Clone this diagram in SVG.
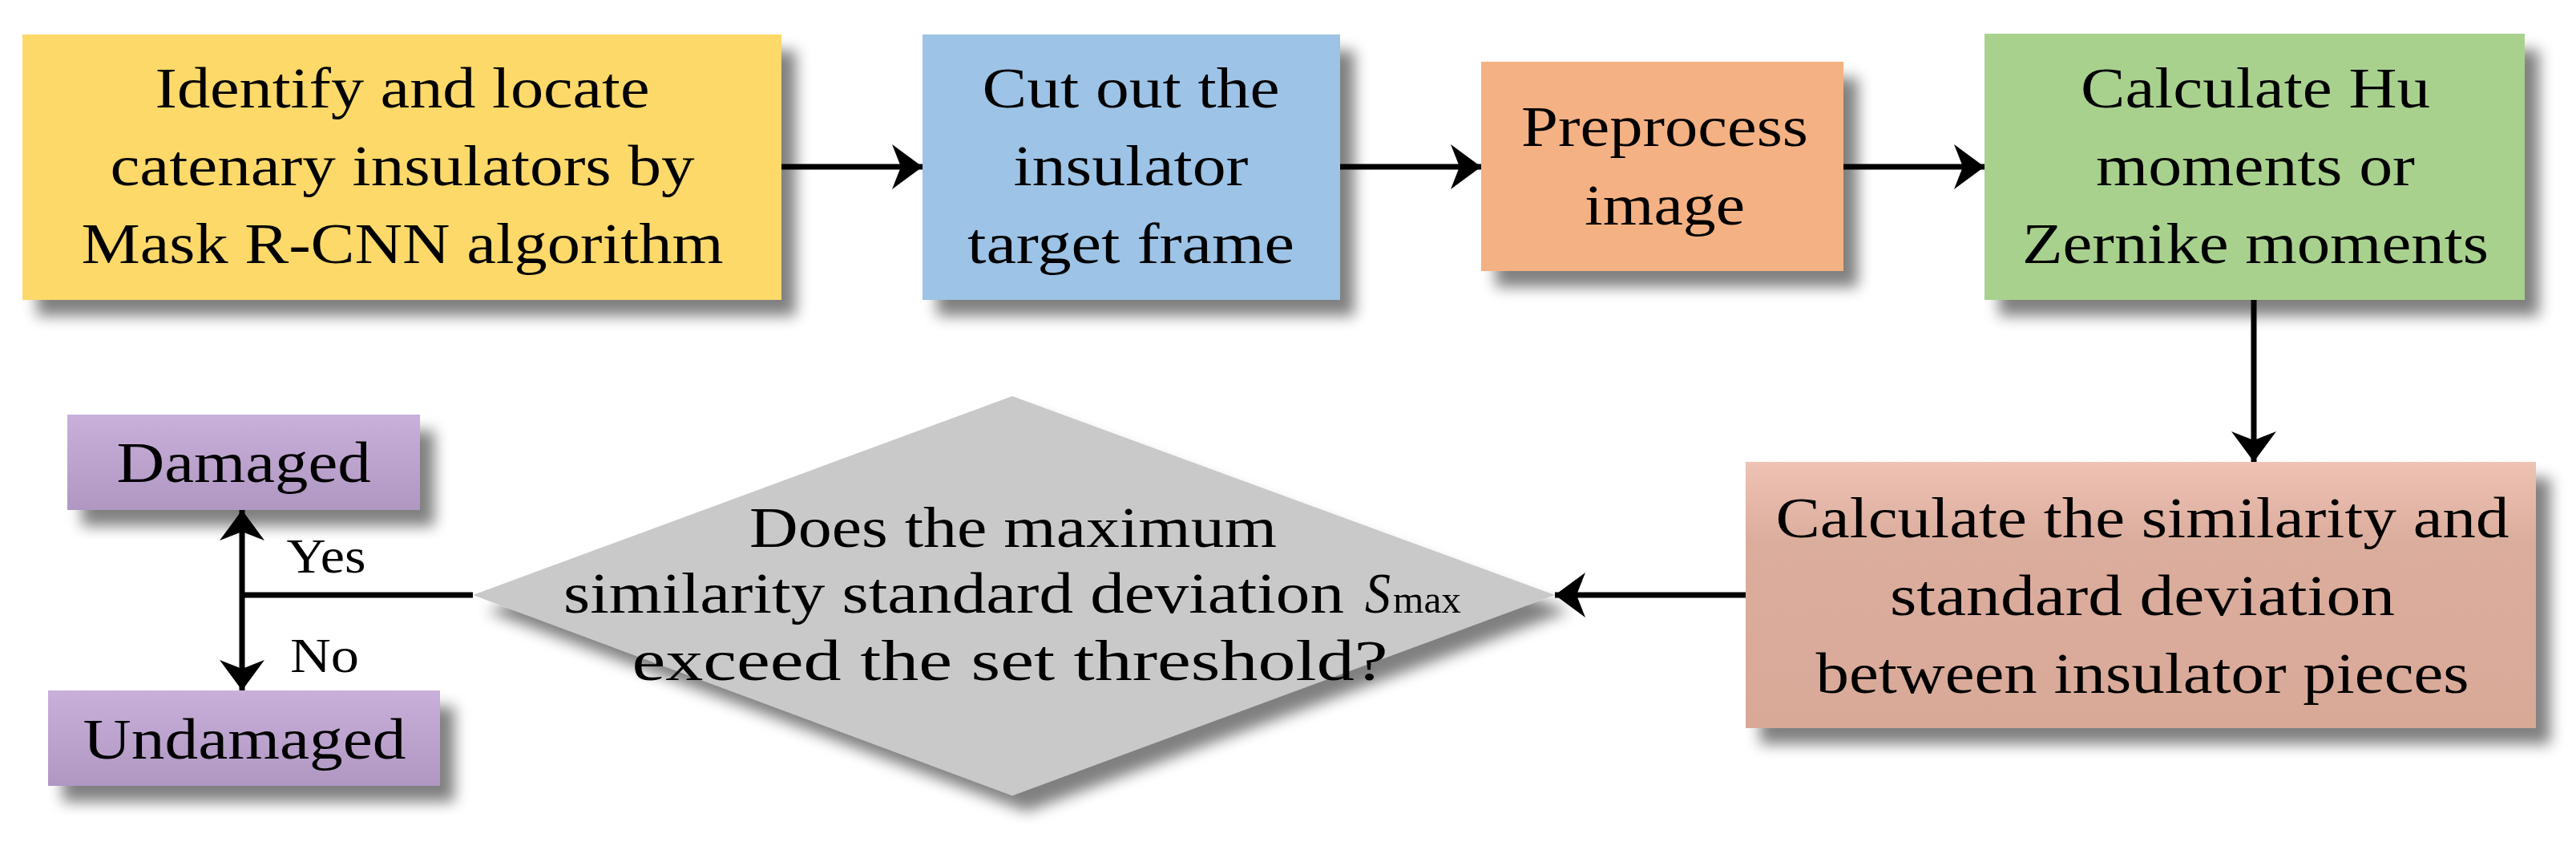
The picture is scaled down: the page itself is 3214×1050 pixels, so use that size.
<svg xmlns="http://www.w3.org/2000/svg" width="3214" height="1050" viewBox="0 0 3214 1050">
<style>
text{font-family:"Liberation Serif","DejaVu Serif",serif;font-size:72px;fill:#000;text-anchor:middle}
.sm{font-size:62px}
.box{filter:url(#sh)}
.ln{stroke:#000;stroke-width:7;fill:none}
</style>
<defs>
<filter id="sh" x="-20%" y="-20%" width="150%" height="150%">
<feGaussianBlur in="SourceAlpha" stdDeviation="9"/>
<feOffset dx="18" dy="20" result="b"/>
<feComponentTransfer><feFuncA type="linear" slope="0.5"/></feComponentTransfer>
<feMerge><feMergeNode/><feMergeNode in="SourceGraphic"/></feMerge>
</filter>
<linearGradient id="gp" x1="0" y1="0" x2="0" y2="1"><stop offset="0" stop-color="#EEC2B4"/><stop offset="0.3" stop-color="#DBAD9D"/><stop offset="1" stop-color="#D9A998"/></linearGradient>
<linearGradient id="gv" x1="0" y1="0" x2="0" y2="1"><stop offset="0" stop-color="#C8B0DB"/><stop offset="1" stop-color="#AF97C2"/></linearGradient>
<marker id="ah" markerUnits="userSpaceOnUse" markerWidth="50" markerHeight="70" viewBox="-45 -35 50 70" refX="0" refY="0" orient="auto">
<path d="M0,0 L-38,-28 L-27,0 L-38,28 Z" fill="#000"/>
</marker>
</defs>
<g id="n1"><rect class="box" x="28" y="43" width="947" height="331" fill="#FDD96A"/>
<text x="502" y="134" textLength="617" lengthAdjust="spacingAndGlyphs">Identify and locate</text>
<text x="502" y="231" textLength="729" lengthAdjust="spacingAndGlyphs">catenary insulators by</text>
<text x="502" y="328" textLength="801" lengthAdjust="spacingAndGlyphs">Mask R-CNN algorithm</text></g>
<g id="n2"><rect class="box" x="1151" y="43" width="521" height="331" fill="#9DC3E6"/>
<text x="1411" y="134" textLength="371" lengthAdjust="spacingAndGlyphs">Cut out the</text>
<text x="1411" y="231" textLength="293" lengthAdjust="spacingAndGlyphs">insulator</text>
<text x="1411" y="328" textLength="408" lengthAdjust="spacingAndGlyphs">target frame</text></g>
<g id="n3"><rect class="box" x="1848" y="77" width="452" height="261" fill="#F4B183"/>
<text x="2077" y="182" textLength="358" lengthAdjust="spacingAndGlyphs">Preprocess</text>
<text x="2077" y="280" textLength="200" lengthAdjust="spacingAndGlyphs">image</text></g>
<g id="n4"><rect class="box" x="2476" y="42" width="674" height="332" fill="#A9D18E"/>
<text x="2814" y="134" textLength="436" lengthAdjust="spacingAndGlyphs">Calculate Hu</text>
<text x="2814" y="231" textLength="398" lengthAdjust="spacingAndGlyphs">moments or</text>
<text x="2814" y="328" textLength="582" lengthAdjust="spacingAndGlyphs">Zernike moments</text></g>
<g id="n5"><rect class="box" x="2178" y="576" width="986" height="332" fill="url(#gp)"/>
<text x="2673" y="670" textLength="915" lengthAdjust="spacingAndGlyphs">Calculate the similarity and</text>
<text x="2673" y="767" textLength="630" lengthAdjust="spacingAndGlyphs">standard deviation</text>
<text x="2673" y="864" textLength="815" lengthAdjust="spacingAndGlyphs">between insulator pieces</text></g>
<g id="n6"><polygon class="box" points="590,742 1263,494 1940,742 1263,992" fill="#C9C9C9"/>
<text x="1264" y="682" textLength="658" lengthAdjust="spacingAndGlyphs">Does the maximum</text>
<text x="703" y="764" style="text-anchor:start" textLength="974" lengthAdjust="spacingAndGlyphs">similarity standard deviation</text>
<text x="1703" y="764" style="text-anchor:start;font-style:italic" textLength="32" lengthAdjust="spacingAndGlyphs">S</text>
<text x="1738" y="764" style="text-anchor:start;font-size:48px" textLength="85" lengthAdjust="spacingAndGlyphs">max</text>
<text x="1260" y="848" textLength="943" lengthAdjust="spacingAndGlyphs">exceed the set threshold?</text></g>
<g id="n7"><rect class="box" x="84" y="517" width="440" height="119" fill="url(#gv)"/>
<text x="304" y="601" textLength="317" lengthAdjust="spacingAndGlyphs">Damaged</text></g>
<g id="n8"><rect class="box" x="60" y="861" width="489" height="119" fill="url(#gv)"/>
<text x="305" y="946" textLength="403" lengthAdjust="spacingAndGlyphs">Undamaged</text></g>
<g id="connectors">
<line class="ln" x1="975" y1="208" x2="1151" y2="208" marker-end="url(#ah)"/>
<line class="ln" x1="1672" y1="208" x2="1848" y2="208" marker-end="url(#ah)"/>
<line class="ln" x1="2300" y1="208" x2="2476" y2="208" marker-end="url(#ah)"/>
<line class="ln" x1="2812" y1="374" x2="2812" y2="576" marker-end="url(#ah)"/>
<line class="ln" x1="2178" y1="742" x2="1940" y2="742" marker-end="url(#ah)"/>
<line class="ln" x1="590" y1="742" x2="302" y2="742"/>
<line class="ln" x1="302" y1="742" x2="302" y2="636" marker-end="url(#ah)"/>
<line class="ln" x1="302" y1="742" x2="302" y2="861" marker-end="url(#ah)"/>
<text class="sm" x="407" y="714" textLength="99" lengthAdjust="spacingAndGlyphs">Yes</text>
<text class="sm" x="405" y="838" textLength="86" lengthAdjust="spacingAndGlyphs">No</text>
</g>
</svg>
